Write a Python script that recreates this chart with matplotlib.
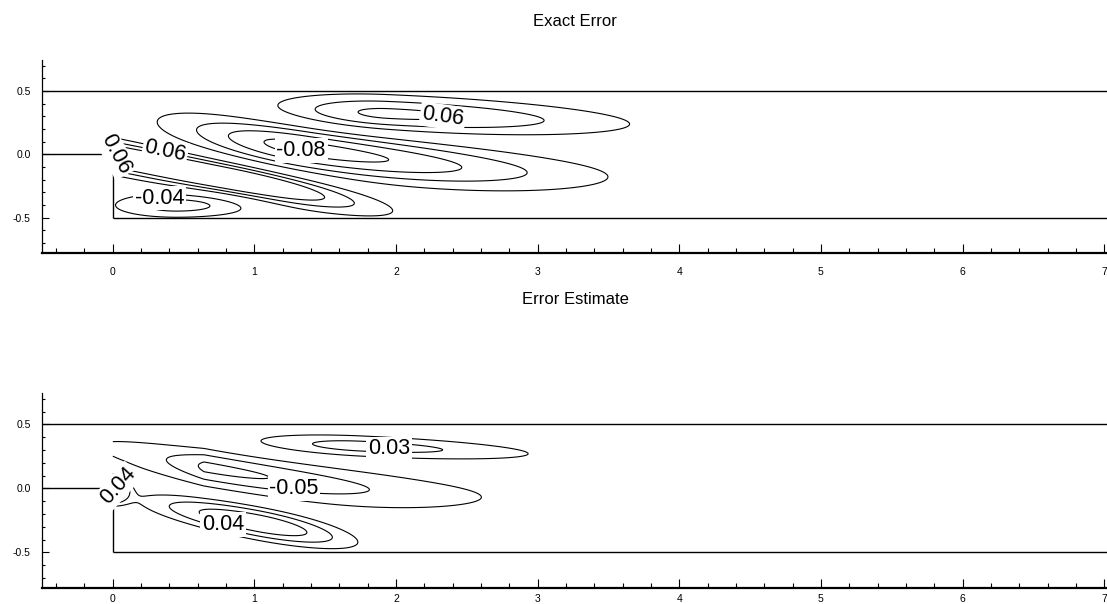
import numpy as np
import matplotlib
matplotlib.use("Agg")
import matplotlib.pyplot as plt
from matplotlib.ticker import MultipleLocator, FixedLocator, FixedFormatter

plt.rcParams["font.family"] = ["Liberation Sans", "DejaVu Sans"]

# ---------------------------------------------------------------------------
# Error fields on the backward-facing step (x >= 0, -0.5 <= y <= 0.5).
# Each field is a sum of sheared, skewed bumps:
#   amp, xc, yc, left width, right width, cross width, axis slope,
#   axis curvature, left exponent, right exponent
# ---------------------------------------------------------------------------
exact_amp   = [0.066, -0.090, 0.110, -0.050]
exact_xc    = [1.94, 1.35, 0.82, 0.45]
exact_yc    = [0.32, 0.05, -0.19, -0.40]
exact_sl    = [0.78, 0.85, 3.00, 0.45]
exact_sr    = [1.565, 1.75, 0.89, 0.55]
exact_sy    = [0.14, 0.17, 0.118, 0.10]
exact_slope = [-0.047, -0.17, -0.217, 0.0]
exact_curv  = [0.0, 0.03, 0.0, 0.0]
exact_pl    = [2, 2, 2, 2]
exact_pr    = [2, 2, 2, 2]
exact_levels = [-0.08, -0.06, -0.04, -0.02, 0.02, 0.04, 0.06]

est_amp   = [0.034, -0.055, 0.050, 0.070]
est_xc    = [1.76, 0.644, 1.02, 0.0]
est_yc    = [0.33, 0.17, -0.27, 0.0]
est_sl    = [1.01, 0.45, 0.87, 0.10]
est_sr    = [1.61, 1.50, 0.742, 0.10]
est_sy    = [0.11, 0.13, 0.14, 0.10]
est_slope = [-0.05, -0.20, -0.21, 0.0]
est_curv  = [0.0, 0.04, 0.0, 0.0]
est_pl    = [2, 1.0, 2, 2]
est_pr    = [2, 2, 2, 2]
est_levels = [-0.05, -0.03, -0.01, 0.02, 0.03, 0.04]

# contour labels: level, x, y, rotation (deg)
exact_labels = [(0.06, 2.33, 0.30, -8), (-0.08, 1.33, 0.03, 0),
                (0.06, 0.37, 0.03, -12), (0.06, 0.02, 0.0, -62),
                (-0.04, 0.33, -0.345, 0)]
est_labels = [(0.03, 1.95, 0.31, 0), (-0.05, 1.28, 0.0, 0),
              (0.04, 0.78, -0.28, 0), (0.04, 0.04, 0.02, 48)]

xg = np.linspace(0.0, 7.02, 1405)
yg = np.linspace(-0.5, 0.5, 401)
X, Y = np.meshgrid(xg, yg)


def field(amp, xc, yc, sl, sr, sy, slope, curv, pl, pr):
    z = np.zeros_like(X)
    for a, x0, y0, l, r, s, m, c, p1, p2 in zip(amp, xc, yc, sl, sr, sy,
                                                 slope, curv, pl, pr):
        dx = X - x0
        yax = y0 + m * dx + c * dx ** 2
        u = np.where(dx < 0, np.abs(dx / l) ** p1, np.abs(dx / r) ** p2)
        v = ((Y - yax) / s) ** 2
        z += a * np.exp(-u - v)
    return z


Z_exact = field(exact_amp, exact_xc, exact_yc, exact_sl, exact_sr, exact_sy,
                exact_slope, exact_curv, exact_pl, exact_pr)
Z_est = field(est_amp, est_xc, est_yc, est_sl, est_sr, est_sy,
              est_slope, est_curv, est_pl, est_pr)

W, H = 1107, 604
fig = plt.figure(figsize=(W / 100, H / 100), dpi=100)

panels = [
    ("Exact Error", Z_exact, exact_levels, exact_labels, 253, 193, 21, 10),
    ("Error Estimate", Z_est, est_levels, est_labels, 588, 195, 300, 4),
]

for title, Z, levels, labels, bot_px, h_px, title_px, xpad in panels:
    ax = fig.add_axes([42 / W, 1 - bot_px / H, 1 - 42 / W, h_px / H])
    ax.set_xlim(-0.5, 7.02)
    ax.set_ylim(-0.778, 0.746)

    ax.contour(X, Y, Z, levels=levels, colors="black", linewidths=0.8,
               linestyles="solid")

    # channel walls
    wall = dict(color="black", lw=1.0, solid_capstyle="butt")
    ax.plot([-0.5, 7.1], [0.5, 0.5], **wall)
    ax.plot([-0.5, 0.0], [0.0, 0.0], **wall)
    ax.plot([0.0, 0.0], [0.0, -0.5], **wall)
    ax.plot([0.0, 7.1], [-0.5, -0.5], **wall)

    for lev, lx, ly, rot in labels:
        ax.text(lx, ly, f"{lev:.2f}", fontsize=15.5, rotation=rot,
                rotation_mode="anchor", ha="center", va="center", zorder=5,
                bbox=dict(boxstyle="square,pad=0.08", fc="white", ec="none"))

    for s in ("top", "right"):
        ax.spines[s].set_visible(False)
    ax.spines["left"].set_linewidth(0.9)
    ax.spines["bottom"].set_linewidth(1.6)

    ax.xaxis.set_major_locator(FixedLocator(range(0, 8)))
    ax.xaxis.set_major_formatter(FixedFormatter([str(i) for i in range(8)]))
    ax.xaxis.set_minor_locator(MultipleLocator(0.2))
    ax.yaxis.set_major_locator(FixedLocator([-0.5, 0.0, 0.5]))
    ax.yaxis.set_major_formatter(FixedFormatter(["-0.5", "0.0", "0.5"]))
    ax.yaxis.set_minor_locator(MultipleLocator(0.1))

    ax.tick_params(axis="x", which="major", direction="in", length=6.5,
                   width=0.8, labelsize=7.5, pad=xpad)
    ax.tick_params(axis="x", which="minor", direction="in", length=3.5,
                   width=0.8)
    ax.tick_params(axis="y", which="major", direction="in", length=5,
                   width=0.8, labelsize=7.5, pad=8)
    ax.tick_params(axis="y", which="minor", direction="in", length=2.5,
                   width=0.8)

    fig.text(575 / W, 1 - title_px / H, title, ha="center", va="center",
             fontsize=12)

fig.savefig("out.png", dpi=100)
